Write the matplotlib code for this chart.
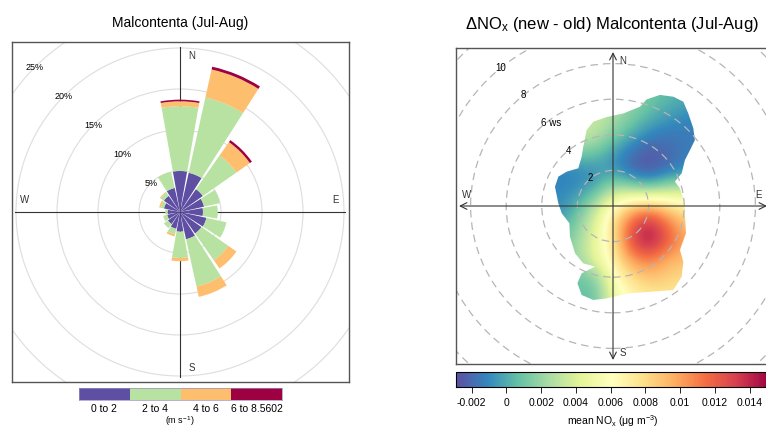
import matplotlib.pyplot as plt
import numpy as np
from matplotlib.patches import Wedge, Circle, Polygon

plt.rcParams['font.family'] = ['Liberation Sans', 'DejaVu Sans']
plt.rcParams['mathtext.fontset'] = 'custom'
plt.rcParams['mathtext.rm'] = 'Liberation Sans'
plt.rcParams['mathtext.it'] = 'Liberation Sans:italic'

# --- wind rose: % of hours per sector (N, NNE, ... clockwise) ---
directions = np.arange(0, 360, 22.5)
freq_0_2 = [5.0, 4.9, 3.4, 3.0, 2.8, 3.3, 3.2, 3.4, 2.4, 2.1, 1.8, 1.6, 1.5, 2.0, 2.4, 3.0]
freq_2_4 = [7.9, 9.4, 5.0, 2.0, 1.8, 2.5, 4.0, 5.9, 3.2, 0.7, 0.6, 0.5, 0.3, 0.4, 0.5, 2.0]
freq_4_6 = [0.6, 3.5, 2.0, 0.0, 0.0, 0.0, 1.2, 1.3, 0.4, 0.25, 0.0, 0.0, 0.0, 0.2, 0.1, 0.0]
freq_6_max = [0.2, 0.35, 0.3, 0, 0, 0, 0, 0, 0, 0, 0, 0, 0, 0, 0, 0]
speed_bins = ['0 to 2', '2 to 4', '4 to 6', '6 to 8.5602']
bin_colours = ['#5E4FA2', '#B7E2A1', '#FDBE6E', '#9E0142']
pct_rings = [5, 10, 15, 20, 25]

# --- polar plot: delta NOx on a 1 m/s grid, u = west->east, v = south->north ---
grid_u = np.arange(-3, 6)
grid_v = np.arange(6, -6, -1)
delta_nox = np.array([
    [0.0038, 0.0038, 0.0036, 0.0028, 0.0018, 0.0010, 0.0005, 0.0000, -0.0005],
    [0.0038, 0.0038, 0.0034, 0.0025, 0.0014, 0.0003, -0.0005, -0.0010, -0.0012],
    [0.0028, 0.0034, 0.0030, 0.0015, 0.0000, -0.0012, -0.0016, -0.0015, -0.0014],
    [0.0005, 0.0013, 0.0010, -0.0005, -0.0018, -0.0026, -0.0021, -0.0015, -0.0012],
    [-0.0012, -0.0012, -0.0008, -0.0006, -0.0022, -0.0027, -0.0018, -0.0010, -0.0008],
    [-0.0012, -0.0009, 0.0000, 0.0025, 0.0020, 0.0012, 0.0025, 0.0028, 0.0028],
    [-0.0010, 0.0003, 0.0030, 0.0062, 0.0085, 0.0095, 0.0080, 0.0070, 0.0065],
    [-0.0002, 0.0015, 0.0042, 0.0080, 0.0122, 0.0142, 0.0115, 0.0090, 0.0085],
    [0.0010, 0.0022, 0.0046, 0.0075, 0.0128, 0.0148, 0.0122, 0.0100, 0.0095],
    [0.0012, 0.0022, 0.0045, 0.0072, 0.0102, 0.0112, 0.0096, 0.0090, 0.0088],
    [0.0008, 0.0010, 0.0015, 0.0058, 0.0080, 0.0090, 0.0085, 0.0080, 0.0080],
    [0.0006, 0.0006, 0.0008, 0.0050, 0.0065, 0.0075, 0.0075, 0.0075, 0.0075],
])
# outline of the area with data (u, v in m/s)
blob_edge = [
    (-3.26, 1.08), (-3.07, 1.65), (-2.6, 1.93), (-1.95, 2.12), (-1.76, 2.77),
    (-1.67, 3.33), (-1.48, 4.27), (-1.1, 4.74), (-0.35, 5.0), (0.58, 5.2),
    (1.52, 5.58), (1.89, 5.99), (2.64, 6.24), (3.39, 6.14), (3.95, 5.86),
    (4.23, 5.2), (4.51, 4.37), (4.6, 3.7), (4.33, 3.15), (4.04, 2.58),
    (3.86, 1.84), (3.48, 1.37), (3.76, 0.99), (4.04, 0.15), (4.04, -0.41),
    (4.1, -1.53), (3.76, -2.47), (3.95, -3.13), (3.86, -3.97), (3.39, -4.72),
    (2.27, -4.81), (0.96, -4.9), (0.02, -5.1), (-0.35, -5.19), (-1.1, -5.28),
    (-1.76, -5.0), (-2.0, -4.34), (-1.76, -3.78), (-1.01, -3.41), (-1.67, -3.22),
    (-2.13, -2.66), (-2.42, -1.72), (-2.45, -0.97), (-2.88, -0.41), (-3.07, 0.15),
]
ws_rings = [2, 4, 6, 8, 10, 12]
cbar_ticks = [-0.002, 0, 0.002, 0.004, 0.006, 0.008, 0.01, 0.012, 0.014]
cbar_labels = ['-0.002', '0', '0.002', '0.004', '0.006', '0.008', '0.01', '0.012', '0.014']

W, H = 766, 428
fig = plt.figure(figsize=(W / 100, H / 100), dpi=100)

# ================= wind rose =================
ax1 = fig.add_axes([12 / W, 46 / H, 337 / W, 340 / H])
ax1.set_xlim(-168 / 8.2, 169 / 8.2)
ax1.set_ylim(-170 / 8.2, 170 / 8.2)
ax1.set_xticks([])
ax1.set_yticks([])
for s in ax1.spines.values():
    s.set_linewidth(1.0)
    s.set_color('#555555')

for p in pct_rings:
    ax1.add_patch(Circle((0, 0), p, fill=False, ec='#DDDDDD', lw=0.8, zorder=1))
    a = np.radians(315)
    ax1.text(p * np.sin(a), p * np.cos(a), f'{p}%', fontsize=6.5, ha='center', va='center', zorder=2)

r_axis = 20.1
ax1.plot([0, 0], [-r_axis, r_axis], color='#333333', lw=0.8, zorder=2)
ax1.plot([-r_axis, r_axis], [0, 0], color='#333333', lw=0.8, zorder=2)
for lab, x, y in [('N', 1.46, 19.0), ('E', 19.0, 1.46), ('S', 1.46, -19.0), ('W', -19.0, 1.46)]:
    ax1.text(x, y, lab, fontsize=7, color='#333333', ha='center', va='center')

series = [freq_0_2, freq_2_4, freq_4_6, freq_6_max]
for i, d in enumerate(directions):
    inner = 0.0
    for vals, col in zip(series, bin_colours):
        v = vals[i]
        if v <= 0:
            continue
        outer = inner + v
        ax1.add_patch(Wedge((0, 0), outer, 90 - d - 10, 90 - d + 10, width=v,
                            facecolor=col, edgecolor='none', zorder=3))
        inner = outer

fig.text(180 / W, 1 - 23 / H, 'Malcontenta (Jul-Aug)', fontsize=10, ha='center', va='center')

lax = fig.add_axes([79 / W, (H - 400) / H, 203 / W, 12 / H])
lax.bar(range(4), [1] * 4, width=1, color=bin_colours)
lax.set_xlim(-0.5, 3.5)
lax.set_ylim(0, 1)
lax.set_yticks([])
lax.set_xticks(range(4))
lax.set_xticklabels(speed_bins, fontsize=7.5)
lax.tick_params(axis='x', length=0, pad=3)
for s in lax.spines.values():
    s.set_linewidth(0.5)
    s.set_color('#9990C0')
fig.text(180 / W, 1 - 421 / H, '(m s$^{-1}$)', fontsize=6.5, ha='center', va='center')

# ================= polar plot =================
ax2 = fig.add_axes([456 / W, (H - 364) / H, 314 / W, 316 / H])
ax2.set_xticks([])
ax2.set_yticks([])
for s in ax2.spines.values():
    s.set_linewidth(1.0)
    s.set_color('#555555')

du = grid_u[1] - grid_u[0]
im = ax2.imshow(delta_nox, extent=(grid_u[0] - du / 2, grid_u[-1] + du / 2,
                                   grid_v[-1] - du / 2, grid_v[0] + du / 2),
                origin='upper', cmap='Spectral_r', vmin=-0.0029, vmax=0.0151,
                interpolation='bicubic', aspect='auto', zorder=1)
edge = Polygon(blob_edge, closed=True, facecolor='none', edgecolor='none', transform=ax2.transData)
ax2.add_patch(edge)
im.set_clip_path(edge)
ax2.set_xlim(-157 / 17.8, 157 / 17.8)
ax2.set_ylim(-158 / 17.8, 158 / 17.8)

for ws in ws_rings:
    ax2.add_patch(Circle((0, 0), ws, fill=False, ec='#B5B5B5', lw=0.9, ls=(0, (6, 4)), zorder=2))
b = np.radians(321)
for ws in ws_rings[:5]:
    if ws == 6:
        ax2.text(ws * np.sin(b) - 0.25, ws * np.cos(b), '6 ws', fontsize=7, ha='left', va='center', zorder=4)
    else:
        ax2.text(ws * np.sin(b), ws * np.cos(b), str(ws), fontsize=7, ha='center', va='center', zorder=4)

arrow = dict(arrowstyle='<->', lw=0.8, color='#333333', mutation_scale=12, shrinkA=0, shrinkB=0)
ax2.annotate('', xy=(0, 8.65), xytext=(0, -8.65), arrowprops=arrow, zorder=3)
ax2.annotate('', xy=(8.65, 0), xytext=(-8.65, 0), arrowprops=arrow, zorder=3)
for lab, x, y in [('N', 0.56, 8.15), ('E', 8.15, 0.62), ('S', 0.56, -8.26), ('W', -8.2, 0.62)]:
    ax2.text(x, y, lab, fontsize=7, color='#333333', ha='center', va='center')

fig.text(612 / W, 1 - 25 / H, 'ΔNO$_{\\mathrm{x}}$ (new - old) Malcontenta (Jul-Aug)',
         fontsize=12, ha='center', va='center')

cax = fig.add_axes([456 / W, (H - 387) / H, 312.75 / W, 15 / H])
cbar = fig.colorbar(im, cax=cax, orientation='horizontal', ticks=cbar_ticks)
cbar.ax.set_xticklabels(cbar_labels, fontsize=7.5)
cbar.ax.tick_params(length=4, width=0.6, pad=4)
cbar.outline.set_linewidth(0.8)
cbar.set_label('mean NO$_{\\mathrm{x}}$ (μg m$^{-3}$)', fontsize=7.5, labelpad=4)

fig.savefig('out.png', dpi=100)
